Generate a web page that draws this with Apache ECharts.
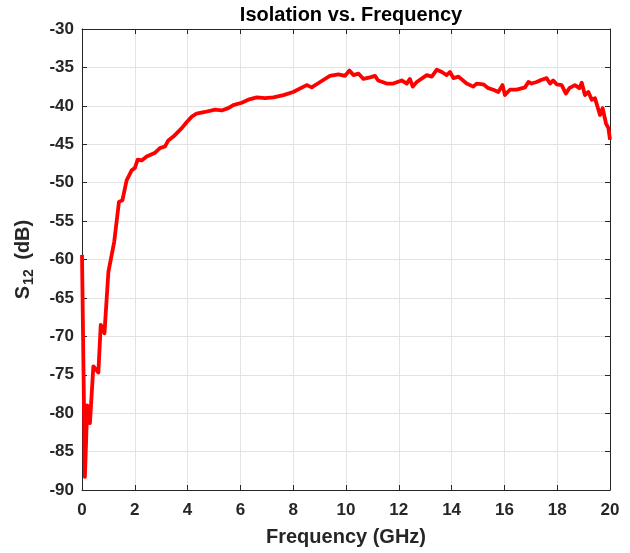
<!DOCTYPE html>
<html>
<head>
<meta charset="utf-8">
<script src="https://cdn.jsdelivr.net/npm/echarts@6/dist/echarts.min.js"></script>
<style>
  html, body { margin: 0; padding: 0; background: #fff; }
  #chart { width: 630px; height: 553px; }
</style>
</head>
<body>
<div id="chart"></div>
<script>
// Frequency in GHz and isolation S12 in dB
var freq = [0.0, 0.11, 0.2, 0.3, 0.43, 0.62, 0.71, 0.85, 1.0, 1.22, 1.40, 1.53, 1.69, 1.88, 2.0, 2.11, 2.26, 2.45, 2.77, 2.95, 3.14, 3.27, 3.46, 3.78, 3.97, 4.16, 4.34, 4.66, 5.04, 5.29, 5.54, 5.73, 6.05, 6.30, 6.62, 6.93, 7.25, 7.63, 8.0, 8.51, 8.70, 9.02, 9.39, 9.71, 9.96, 10.13, 10.28, 10.47, 10.66, 10.91, 11.1, 11.22, 11.54, 11.79, 12.11, 12.30, 12.42, 12.53, 12.68, 13.06, 13.25, 13.44, 13.63, 13.81, 13.94, 14.07, 14.26, 14.57, 14.82, 14.95, 15.2, 15.39, 15.58, 15.77, 15.93, 16.02, 16.21, 16.47, 16.78, 16.91, 17.03, 17.22, 17.41, 17.6, 17.73, 17.85, 17.98, 18.17, 18.33, 18.46, 18.67, 18.74, 18.84, 18.93, 19.05, 19.18, 19.31, 19.43, 19.62, 19.72, 19.85, 19.94, 20.0];
var s12 = [-59.4, -88.3, -79.0, -81.3, -73.9, -74.7, -68.5, -69.6, -61.6, -57.7, -52.5, -52.3, -49.7, -48.4, -48.1, -47.0, -47.1, -46.6, -46.1, -45.5, -45.3, -44.5, -44.0, -42.9, -42.1, -41.4, -41.0, -40.8, -40.5, -40.6, -40.3, -39.9, -39.6, -39.2, -38.9, -39.0, -38.9, -38.6, -38.2, -37.3, -37.6, -36.9, -36.1, -35.9, -36.1, -35.4, -36.0, -35.8, -36.5, -36.3, -36.1, -36.7, -37.1, -37.1, -36.7, -37.1, -36.5, -37.5, -36.9, -36.0, -36.2, -35.3, -35.6, -36.0, -35.6, -36.4, -36.2, -37.1, -37.5, -37.1, -37.2, -37.7, -37.9, -38.2, -37.3, -38.6, -37.9, -37.9, -37.6, -36.9, -37.1, -36.9, -36.6, -36.4, -37.1, -36.7, -37.2, -37.3, -38.4, -37.7, -37.3, -37.1, -37.7, -37.0, -38.6, -38.2, -39.2, -39.0, -41.2, -40.3, -42.3, -42.9, -44.4];

var xTicks = [0, 2, 4, 6, 8, 10, 12, 14, 16, 18, 20];
var yTicks = [-90, -85, -80, -75, -70, -65, -60, -55, -50, -45, -40, -35, -30];

var chart = echarts.init(document.getElementById('chart'));

var fontFam = '"Liberation Sans", Arial, Helvetica, sans-serif';
var axisColor = '#262626';
var gridColor = '#e3e3e3';

function boxAxis(pos, isX, show) {
    return {
        type: 'value',
        position: pos,
        min: isX ? xTicks[0] : yTicks[0],
        max: isX ? xTicks[xTicks.length - 1] : yTicks[yTicks.length - 1],
        interval: isX ? 2 : 5,
        axisLine: { show: true, onZero: false, lineStyle: { color: axisColor, width: 1 } },
        axisTick: { show: true, inside: true, length: 5, lineStyle: { color: axisColor } },
        axisLabel: {
            show: show,
            color: axisColor,
            fontFamily: fontFam,
            fontWeight: 'bold',
            fontSize: 17,
            margin: isX ? 12 : 8
        },
        splitLine: { show: show, lineStyle: { color: gridColor, width: 1 } }
    };
}

var xMain = boxAxis('bottom', true, true);
xMain.name = 'Frequency (GHz)';
xMain.nameLocation = 'middle';
xMain.nameGap = 37;
xMain.nameTextStyle = { color: axisColor, fontFamily: fontFam, fontWeight: 'bold', fontSize: 20 };

var yMain = boxAxis('left', false, true);
yMain.name = '{s|S}{sub|12}{n| (dB)}';
yMain.nameLocation = 'middle';
yMain.nameGap = 46;
yMain.nameTextStyle = {
    color: axisColor,
    rich: {
        s: { fontFamily: fontFam, fontWeight: 'bold', fontSize: 20, color: axisColor },
        sub: { fontFamily: fontFam, fontWeight: 'bold', fontSize: 14, color: axisColor, padding: [11, 0, 0, 1] },
        n: { fontFamily: fontFam, fontWeight: 'bold', fontSize: 20, color: axisColor, padding: [0, 0, 0, 4] }
    }
};

var option = {
    backgroundColor: '#ffffff',
    animation: false,
    title: {
        text: 'Isolation vs. Frequency',
        left: 346,
        textAlign: 'center',
        top: 0,
        textStyle: { color: '#000', fontFamily: fontFam, fontWeight: 'bold', fontSize: 20 }
    },
    grid: { left: 82, right: 20, top: 29, bottom: 63, containLabel: false },
    xAxis: [xMain, boxAxis('top', true, false)],
    yAxis: [yMain, boxAxis('right', false, false)],
    series: [
        {
            type: 'line',
            xAxisIndex: 0,
            yAxisIndex: 0,
            showSymbol: false,
            symbol: 'none',
            lineStyle: { color: '#ff0000', width: 3.8, join: 'round' },
            data: freq.map(function (f, i) { return [f, s12[i]]; })
        }
    ]
};

chart.setOption(option);
</script>
</body>
</html>
